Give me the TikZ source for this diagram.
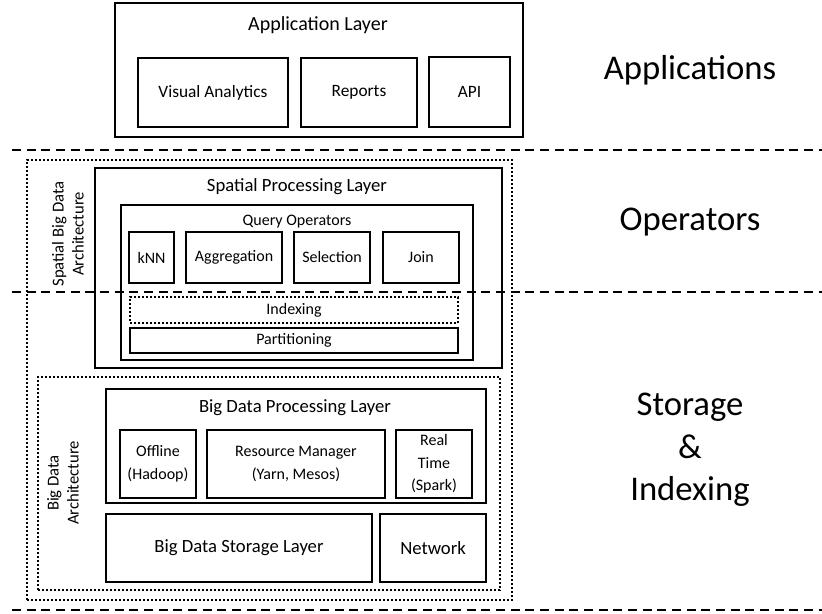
\documentclass[tikz,border=0pt]{standalone}
\usepackage{fontspec}
\setmainfont{Carlito}
\usepackage{tikz}
\usetikzlibrary{positioning, fit, calc}

\tikzset{
  blk/.style={draw, line width=1.3pt, inner sep=0pt},
  dotblk/.style={draw, line width=1.3pt, inner sep=0pt, dash pattern=on 1.5pt off 1.5pt},
  txt/.style={align=center, inner sep=0pt, font=\fontsize{12}{17}\selectfont},
  midtxt/.style={txt, font=\fontsize{13}{16}\selectfont},
  bigtxt/.style={txt, font=\fontsize{14}{17}\selectfont},
  zone/.style={line width=0.9pt, dash pattern=on 6.75pt off 4.25pt},
  title/.style={font=\fontsize{14}{17}\selectfont},
  sidetxt/.style={rotate=90, align=center, font=\fontsize{12.5}{15}\selectfont},
  tier/.style={align=center, font=\fontsize{26}{32}\selectfont}
}

\begin{document}
\begin{tikzpicture}[x=0.75pt, y=-0.75pt]
\useasboundingbox (0,0) rectangle (822,614);

\node[blk, fit={(115,3) (523,137)}] (applayer) {};
\node[title, font=\fontsize{15}{18}\selectfont] (applayertitle) at (318,25) {Application Layer};
\node[blk, fit={(138,58) (288,127)}, label={[midtxt]center:Visual Analytics}] (visual) {};
\node[blk, fit={(301,58) (417,127)}, label={[midtxt]center:Reports}] (reports) {};
\node[blk, fit={(429,57) (510,127)}, label={[midtxt]center:API}] (api) {};

\node[dotblk, fit={(27,160) (512,600)}] (sbda) {};
\node[sidetxt] (sbdalabel) at (68,234) {Spatial Big Data\\Architecture};
\node[blk, fit={(95,168) (502,368)}] (spatial) {};
\node[title] (spatialtitle) at (297,187) {Spatial Processing Layer};
\node[blk, fit={(121,205) (473,360)}] (queryops) {};
\node[txt] (queryopstitle) at (297,222) {Query Operators};
\node[blk, fit={(129,232) (174,283)}, label={[txt]center:kNN}] (knn) {};
\node[blk, fit={(186,232) (282,283)}, label={[txt]center:Aggregation}] (aggr) {};
\node[blk, fit={(294,232) (370,283)}, label={[txt]center:Selection}] (select) {};
\node[blk, fit={(383,232) (459,283)}, label={[txt]center:Join}] (join) {};
\node[dotblk, fit={(130,297) (458,323)}, label={[txt]center:Indexing}] (indexing) {};
\node[blk, fit={(130,328) (458,353)}, label={[txt]center:Partitioning}] (partition) {};

\node[dotblk, fit={(38,377) (500,590)}] (bda) {};
\node[sidetxt] (bdalabel) at (63,483) {Big Data\\Architecture};
\node[blk, fit={(106,389) (486,503)}] (bdproc) {};
\node[title] (bdproctitle) at (295,408) {Big Data Processing Layer};
\node[blk, fit={(120,430) (196,498)}, label={[txt]center:Offline\\(Hadoop)}] (offline) {};
\node[blk, fit={(207,430) (385,498)}, label={[txt]center:Resource Manager\\(Yarn, Mesos)}] (resman) {};
\node[blk, fit={(396,430) (472,498)}, label={[txt]center:Real\\Time\\(Spark)}] (realtime) {};
\node[blk, fit={(106,514) (372,582)}, label={[bigtxt]center:Big Data Storage Layer}] (storage) {};
\node[blk, fit={(380,514) (486,582)}, label={[bigtxt]center:Network}] (network) {};

\node[tier] (apps) at (690,70) {Applications};
\node[tier] (ops) at (690,222) {Operators};
\node[tier] (stor) at (690,450) {Storage\\\&\\Indexing};

\coordinate (z1l) at (12,150);
\coordinate (z1r) at (822,150);
\coordinate (z2l) at (12,292);
\coordinate (z2r) at (822,292);
\coordinate (z3l) at (12,610);
\coordinate (z3r) at (822,610);
\draw[zone] (z1l) -- (z1r);
\draw[zone] (z2l) -- (z2r);
\draw[zone] (z3l) -- (z3r);
\end{tikzpicture}
\end{document}
